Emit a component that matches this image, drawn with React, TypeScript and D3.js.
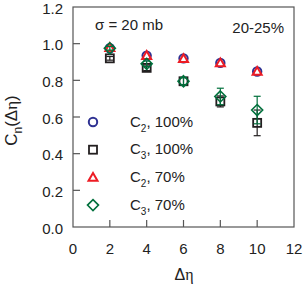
import React from "react";
import * as d3 from "d3";

const deta = [2, 4, 6, 8, 10];
const c2_100 = [0.975, 0.935, 0.92, 0.895, 0.848];
const c3_100 = [0.92, 0.868, 0.795, 0.685, 0.568];
const c2_70 = [0.978, 0.935, 0.918, 0.895, 0.848];
const c3_70 = [0.975, 0.89, 0.795, 0.712, 0.638];
const c3_100_err = [0.01, 0.015, 0.02, 0.03, 0.07];
const c3_70_err = [0.01, 0.015, 0.02, 0.045, 0.075];
const xTicks = [0, 2, 4, 6, 8, 10, 12];
const yTicks = [0, 0.2, 0.4, 0.6, 0.8, 1.0, 1.2];

const BLUE = "#2e3192";
const RED = "#ed1c24";
const GREEN = "#00703c";
const BLACK = "#231f20";

const W = 304, H = 284;
const L = 73, R = 294, T = 7, B = 227;
const FONT = "'Liberation Sans', Arial, sans-serif";

function Marker({ kind, x, y }: { kind: string; x: number; y: number }) {
  if (kind === "circle")
    return <circle cx={x} cy={y} r={4.2} fill="none" stroke={BLUE} strokeWidth={2} />;
  if (kind === "square")
    return <rect x={x - 4} y={y - 4} width={8} height={8} fill="none" stroke={BLACK} strokeWidth={1.8} />;
  if (kind === "triangle")
    return (
      <path d={`M${x},${y - 4.5}L${x + 4.5},${y + 3.3}L${x - 4.5},${y + 3.3}Z`} fill="none" stroke={RED} strokeWidth={2} />
    );
  return (
    <path d={`M${x},${y - 5.5}L${x + 5.5},${y}L${x},${y + 5.5}L${x - 5.5},${y}Z`} fill="none" stroke={GREEN} strokeWidth={1.6} />
  );
}

export default function App() {
  const x = d3.scaleLinear().domain([0, 12]).range([L, R]);
  const y = d3.scaleLinear().domain([0, 1.2]).range([B, T]);

  const series = [
    { kind: "circle", vals: c2_100, err: null as number[] | null, color: BLUE, label: "2", pct: ", 100%" },
    { kind: "square", vals: c3_100, err: c3_100_err, color: BLACK, label: "3", pct: ", 100%" },
    { kind: "triangle", vals: c2_70, err: null, color: RED, label: "2", pct: ", 70%" },
    { kind: "diamond", vals: c3_70, err: c3_70_err, color: GREEN, label: "3", pct: ", 70%" },
  ];

  return (
    <svg width={W} height={H} style={{ position: "absolute", left: 0, top: 0, background: "#fff" }} fontFamily={FONT}>
      <rect x={L} y={T} width={R - L} height={B - T} fill="none" stroke="#555" strokeWidth={1.2} />
      {yTicks.map((t) => (
        <g key={"y" + t}>
          {t > 0 && t < 1.2 && <line x1={L} x2={L + 7} y1={y(t)} y2={y(t)} stroke="#555" strokeWidth={1.2} />}
          <text x={63} y={y(t) + 6.5} textAnchor="end" fontSize={15} fill="#222">
            {t.toFixed(1)}
          </text>
        </g>
      ))}
      {xTicks.map((t) => (
        <g key={"x" + t}>
          {t > 0 && t < 12 && <line x1={x(t)} x2={x(t)} y1={B} y2={B - 7} stroke="#555" strokeWidth={1.2} />}
          <text x={x(t)} y={253.5} textAnchor="middle" fontSize={15} fill="#222">
            {t}
          </text>
        </g>
      ))}
      <text x={184} y={280} textAnchor="middle" fontSize={16} fill="#222">
        Δ<tspan fontFamily="'Liberation Serif', serif">η</tspan>
      </text>
      <text transform={`translate(17,120.5) rotate(-90)`} textAnchor="middle" fontSize={17} fill="#222">
        C<tspan fontSize={12} dy={5}>n</tspan>
        <tspan dy={-5}>(Δ</tspan>
        <tspan fontFamily="'Liberation Serif', serif">η</tspan>
        <tspan>)</tspan>
      </text>
      <text x={95} y={30} fontSize={15} fill="#222">
        σ = 20 mb
      </text>
      <text x={284} y={33} textAnchor="end" fontSize={15} fill="#222">
        20-25%
      </text>
      {series.map((s, si) => (
        <g key={"s" + si}>
          {s.err &&
            s.vals.map((v, i) => {
              const e = s.err![i];
              const cx = x(deta[i]);
              return (
                <g key={i} stroke={s.color} strokeWidth={1.2}>
                  <line x1={cx} x2={cx} y1={y(v - e)} y2={y(v + e)} />
                  <line x1={cx - 3.5} x2={cx + 3.5} y1={y(v - e)} y2={y(v - e)} />
                  <line x1={cx - 3.5} x2={cx + 3.5} y1={y(v + e)} y2={y(v + e)} />
                </g>
              );
            })}
          {s.vals.map((v, i) => (
            <Marker key={i} kind={s.kind} x={x(deta[i])} y={y(v)} />
          ))}
        </g>
      ))}
      {series.map((s, si) => {
        const ly = 122 + si * 27.7;
        return (
          <g key={"l" + si}>
            <Marker kind={s.kind} x={93} y={ly} />
            <text x={130} y={ly + 4.5} fontSize={15} fill="#222">
              C<tspan fontSize={10} dy={5}>{s.label}</tspan>
              <tspan dy={-5}>{s.pct}</tspan>
            </text>
          </g>
        );
      })}
    </svg>
  );
}
